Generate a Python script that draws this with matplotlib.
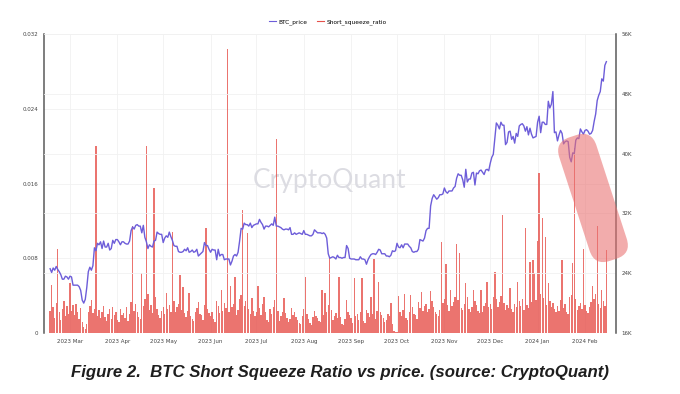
"""
plot.py
BTC short squeeze ratio (bars, left axis) vs BTC price (line, right axis).
"""

import numpy as np
import pandas as pd
import matplotlib
matplotlib.use("Agg")
import matplotlib.pyplot as plt
import matplotlib.dates as mdates
from matplotlib.patches import FancyBboxPatch
from matplotlib.transforms import Affine2D
from matplotlib.lines import Line2D

# =========================
# DATA (daily)
# =========================
START_DATE = "2023-02-16"

# BTC price, thousands of USD
price_2023_02 = [24.6, 24.1, 24.7, 24.4, 24.9, 24.5, 24.2, 23.8, 23.2, 23.2, 23.6, 23.5, 23.2]
price_2023_03 = [23.6, 23.5, 22.4, 22.4, 22.4, 22.4, 22.2, 21.7, 20.4, 20.0, 20.5, 22.1, 24.2, 24.8, 24.4, 25.0,
                 27.4, 27.0, 28.0, 27.8, 28.2, 27.3, 28.3, 27.5, 27.5, 28.0, 27.1, 27.3, 28.4, 28.0, 28.5]
price_2023_04 = [28.5, 28.2, 27.8, 28.2, 28.2, 28.0, 27.9, 27.9, 28.3, 29.7, 30.2, 29.9, 30.4, 30.5, 30.3,
                 30.3, 29.4, 30.4, 28.8, 28.2, 27.3, 27.8, 27.6, 27.5, 28.3, 28.4, 29.5, 29.3, 29.2, 29.2]
price_2023_05 = [28.1, 28.7, 29.0, 28.8, 29.5, 28.9, 28.4, 27.7, 27.6, 27.6, 26.9, 26.8, 26.8, 26.9, 27.2, 27.0,
                 27.4, 26.8, 26.9, 27.1, 26.8, 26.9, 27.2, 26.3, 26.5, 26.7, 26.9, 28.1, 27.7, 27.7, 27.2]
price_2023_06 = [26.8, 27.2, 27.1, 27.1, 25.8, 27.2, 26.3, 26.5, 26.5, 25.8, 25.9, 25.9, 25.9, 25.1, 25.6,
                 26.3, 26.5, 26.3, 26.8, 28.3, 30.0, 29.9, 30.7, 30.5, 30.5, 30.3, 30.7, 30.1, 30.4, 30.5]
price_2023_07 = [30.6, 30.6, 31.2, 30.8, 30.5, 29.9, 30.3, 30.3, 30.2, 30.4, 30.6, 30.4, 31.5, 30.3, 30.3, 30.2,
                 30.1, 29.9, 29.8, 29.9, 29.9, 29.8, 30.1, 29.2, 29.2, 29.4, 29.2, 29.3, 29.4, 29.3, 29.2]
price_2023_08 = [29.7, 29.2, 29.2, 29.1, 29.0, 29.0, 29.2, 29.8, 29.6, 29.4, 29.4, 29.4, 29.3, 29.4, 29.2, 28.7,
                 26.6, 26.0, 26.1, 26.2, 26.1, 25.9, 26.4, 26.1, 26.1, 26.0, 26.1, 26.1, 27.7, 27.3, 26.0]
price_2023_09 = [25.9, 25.9, 25.9, 25.8, 25.8, 25.8, 26.2, 25.9, 25.9, 25.8, 25.2, 25.8, 26.2, 26.5, 26.6,
                 26.6, 26.5, 26.8, 27.2, 27.1, 26.6, 26.6, 26.6, 26.3, 26.3, 26.2, 26.4, 27.0, 26.9, 27.0]
price_2023_10 = [28.0, 27.5, 27.4, 27.8, 27.4, 27.9, 27.9, 27.9, 27.6, 27.4, 26.9, 26.8, 26.9, 26.9, 27.2, 28.5,
                 28.4, 28.3, 28.7, 29.7, 30.0, 30.0, 33.0, 34.0, 34.5, 34.2, 33.9, 34.1, 34.5, 34.5, 34.6]
price_2023_11 = [35.4, 34.9, 34.7, 35.0, 35.0, 35.0, 35.4, 35.6, 36.7, 37.3, 37.1, 37.1, 36.5, 35.5, 37.9,
                 36.2, 36.6, 36.6, 37.4, 37.5, 35.8, 37.4, 37.3, 37.7, 37.8, 37.5, 37.2, 37.8, 37.9, 37.7]
price_2023_12 = [38.7, 39.5, 39.9, 42.0, 44.1, 43.8, 43.3, 44.2, 43.8, 43.8, 41.2, 41.5, 42.9, 43.0, 41.9, 42.3,
                 41.4, 42.7, 42.3, 43.7, 43.9, 44.0, 43.7, 43.0, 43.6, 42.5, 43.4, 42.6, 42.1, 42.2, 42.3]
price_2024_01 = [44.2, 45.0, 42.8, 44.2, 44.2, 43.9, 43.9, 47.0, 46.1, 46.6, 48.3, 42.8, 42.9, 41.7, 42.5, 43.1,
                 42.7, 41.3, 41.6, 41.7, 41.6, 39.5, 38.9, 40.1, 40.0, 41.8, 42.1, 42.0, 43.3, 42.9, 42.6]
price_2024_02 = [43.1, 43.2, 43.0, 42.6, 42.7, 43.1, 44.3, 45.3, 47.1, 47.8, 48.3, 50.0, 49.7, 51.8, 52.3]

# Short squeeze ratio, in units of 1e-3
ratio_2023_02 = [2.4, 5.1, 2.8, 1.6, 3.2, 9.0, 2.2, 1.4, 2.6, 3.4, 1.8, 2.9, 2.0]
ratio_2023_03 = [5.3, 2.4, 3.0, 1.9, 3.1, 2.2, 1.5, 2.7, 1.2, 0.6, 0.4, 1.0, 2.3, 2.9, 3.5, 2.1,
                 2.6, 20.0, 1.8, 2.5, 1.6, 2.2, 2.9, 1.7, 1.3, 2.0, 2.6, 1.5, 2.8, 1.9, 2.3]
ratio_2023_04 = [1.4, 1.2, 2.6, 1.9, 2.1, 1.6, 2.8, 1.3, 2.0, 3.3, 11.5, 2.4, 3.1, 2.2, 1.7,
                 1.5, 6.4, 2.9, 3.6, 20.0, 4.2, 2.5, 3.0, 2.1, 15.5, 3.8, 2.6, 1.9, 1.6, 2.4]
ratio_2023_05 = [2.8, 2.0, 4.3, 2.6, 3.0, 2.3, 10.8, 3.4, 2.2, 2.8, 3.1, 6.2, 2.5, 4.9, 2.1, 1.7,
                 2.4, 4.3, 1.8, 1.5, 1.3, 2.2, 2.7, 3.3, 2.0, 1.9, 1.4, 3.0, 11.2, 2.6, 2.1]
ratio_2023_06 = [1.8, 2.3, 1.5, 1.2, 3.4, 2.9, 2.1, 4.6, 2.4, 3.2, 2.7, 30.4, 2.2, 5.0, 2.8,
                 3.1, 6.0, 1.9, 2.5, 3.6, 4.1, 13.2, 2.9, 3.4, 10.7, 2.6, 2.0, 3.7, 2.4, 1.8]
ratio_2023_07 = [2.2, 5.0, 2.7, 1.9, 3.1, 3.8, 2.3, 1.4, 1.2, 2.6, 2.0, 2.8, 3.5, 20.8, 2.4, 1.3,
                 1.8, 2.2, 3.7, 2.1, 1.6, 1.2, 1.5, 2.7, 1.9, 2.3, 1.7, 1.4, 1.1, 1.0, 1.8]
ratio_2023_08 = [2.6, 6.0, 2.0, 1.5, 1.1, 0.9, 1.7, 2.4, 1.8, 1.6, 1.3, 1.2, 4.6, 1.9, 4.3, 2.2,
                 3.0, 8.0, 2.5, 1.4, 1.8, 2.1, 1.6, 6.0, 1.7, 1.0, 0.9, 1.5, 3.5, 2.3, 1.9]
ratio_2023_09 = [1.6, 1.1, 5.9, 1.8, 2.0, 1.4, 2.2, 5.9, 1.3, 1.1, 2.5, 2.1, 1.7, 3.9, 2.0,
                 7.9, 1.5, 2.4, 5.5, 2.3, 1.9, 1.6, 1.2, 1.4, 2.0, 1.8, 3.2, 1.0, 0.2, 0.1]
ratio_2023_10 = [0.1, 4.0, 2.2, 1.8, 2.5, 4.2, 1.6, 1.4, 2.3, 4.1, 2.8, 2.0, 1.9, 1.5, 3.3, 2.7,
                 4.4, 2.4, 2.9, 3.1, 2.2, 2.6, 4.5, 3.4, 2.8, 2.3, 2.0, 1.8, 2.5, 9.7, 3.2]
ratio_2023_11 = [3.6, 7.4, 3.0, 2.4, 4.6, 2.9, 3.3, 3.8, 9.5, 3.5, 8.6, 2.7, 2.5, 3.1, 5.3,
                 3.9, 2.6, 2.2, 2.8, 4.6, 3.4, 3.0, 2.4, 2.1, 4.6, 2.3, 2.9, 3.2, 5.5, 2.8]
ratio_2023_12 = [3.1, 2.6, 3.9, 6.5, 3.6, 2.8, 3.3, 4.0, 12.6, 3.2, 2.5, 3.0, 2.7, 4.8, 2.6, 2.2,
                 3.1, 2.8, 5.5, 3.4, 2.9, 3.6, 2.5, 11.2, 3.0, 2.7, 7.6, 3.3, 7.8, 6.4, 3.5]
ratio_2024_01 = [9.8, 17.1, 4.2, 12.3, 3.7, 10.3, 3.0, 5.3, 3.4, 2.8, 3.2, 2.6, 2.2, 2.9, 2.4, 3.5,
                 7.8, 2.7, 3.1, 2.3, 2.0, 3.8, 4.1, 7.5, 19.8, 3.6, 2.5, 2.9, 3.2, 2.6, 9.0]
ratio_2024_02 = [3.0, 2.4, 2.1, 2.8, 3.3, 5.0, 3.6, 4.2, 11.4, 3.1, 2.7, 4.6, 3.4, 2.9, 8.9]

LEFT_TICKS = [0, 0.008, 0.016, 0.024, 0.032]
LEFT_LABELS = ["0", "0.008", "0.016", "0.024", "0.032"]
RIGHT_TICKS = [16000, 24000, 32000, 40000, 48000, 56000]
RIGHT_LABELS = ["16K", "24K", "32K", "40K", "48K", "56K"]
MONTH_TICKS = pd.date_range("2023-03-01", "2024-02-01", freq="MS")

TITLE = "Figure 2.  BTC Short Squeeze Ratio vs price. (source: CryptoQuant)"

# =========================
# STYLE
# =========================
W, H = 680, 394
PURPLE = "#6d5dd9"
RED = "#e6514b"
AXIS_GREY = "#5a5a5a"
GRID = "#f1f1f1"


def main():
    price = np.concatenate([price_2023_02, price_2023_03, price_2023_04, price_2023_05,
                            price_2023_06, price_2023_07, price_2023_08, price_2023_09,
                            price_2023_10, price_2023_11, price_2023_12, price_2024_01,
                            price_2024_02]) * 1000
    ratio = np.concatenate([ratio_2023_02, ratio_2023_03, ratio_2023_04, ratio_2023_05,
                            ratio_2023_06, ratio_2023_07, ratio_2023_08, ratio_2023_09,
                            ratio_2023_10, ratio_2023_11, ratio_2023_12, ratio_2024_01,
                            ratio_2024_02]) / 1000
    dates = pd.date_range(START_DATE, periods=len(price), freq="D")

    fig = plt.figure(figsize=(W / 100, H / 100), dpi=100)
    ax = fig.add_axes([44 / W, 61 / H, 572 / W, 299 / H])
    ax2 = ax.twinx()

    # faint grid
    for m in MONTH_TICKS:
        ax.axvline(m, color=GRID, lw=0.6, zorder=0)
    for t in LEFT_TICKS[1:]:
        ax.axhline(t, color=GRID, lw=0.6, zorder=0)
    for t in RIGHT_TICKS[1:]:
        ax2.axhline(t, color=GRID, lw=0.6, zorder=0)

    ax.bar(dates, ratio, width=0.9, color=RED, alpha=0.8, linewidth=0, zorder=2)
    ax2.plot(dates, price, color=PURPLE, lw=1.0, zorder=3)

    mar1 = mdates.date2num(pd.Timestamp("2023-03-01"))
    ax.set_xlim(mar1 - 17.0, mar1 + 357.3)
    ax.set_ylim(0, 0.032)
    ax2.set_ylim(16000, 56000)

    ax.set_yticks(LEFT_TICKS)
    ax.set_yticklabels(LEFT_LABELS)
    ax2.set_yticks(RIGHT_TICKS)
    ax2.set_yticklabels(RIGHT_LABELS)
    ax.set_xticks(MONTH_TICKS)
    ax.set_xticklabels([f"{d.year} {d.strftime('%b')}" for d in MONTH_TICKS])

    for a in (ax, ax2):
        a.tick_params(length=0, labelsize=4, colors="#444444", pad=4)
        for s in ("top", "bottom", "left", "right"):
            a.spines[s].set_visible(False)
    ax.spines["left"].set_visible(True)
    ax.spines["left"].set_color(AXIS_GREY)
    ax.spines["left"].set_linewidth(1.1)
    ax2.spines["right"].set_visible(True)
    ax2.spines["right"].set_color(AXIS_GREY)
    ax2.spines["right"].set_linewidth(1.1)

    # watermark
    ax.text(0.5, 0.51, "CryptoQuant", transform=ax.transAxes, ha="center", va="center",
            fontsize=19, family="Lato", color="#dcdce2", zorder=1)

    # legend
    handles = [Line2D([], [], color=PURPLE, lw=0.8), Line2D([], [], color=RED, lw=0.8)]
    fig.legend(handles, ["BTC_price", "Short_squeeze_ratio"], loc="center",
               bbox_to_anchor=(0.482, 1 - 22 / H), ncol=2, frameon=False, fontsize=4.2,
               handlelength=1.3, handletextpad=0.4, columnspacing=1.6)

    # highlight box (rotated rounded rectangle, in pixels)
    cx, cy, bw, bh = 593, H - 198, 39, 130
    box = FancyBboxPatch((cx - bw / 2, cy - bh / 2), bw, bh,
                         boxstyle="round,pad=0,rounding_size=16",
                         transform=Affine2D().rotate_deg_around(cx, cy, 18),
                         facecolor="#e97171", alpha=0.58, linewidth=0)
    fig.add_artist(box)

    fig.text(0.5, 1 - 372 / H, TITLE, ha="center", va="center", fontsize=12.1,
             fontweight="bold", style="italic", family="Liberation Sans", color="#1e1e1e")

    fig.savefig("out.png", dpi=100)


if __name__ == "__main__":
    main()
